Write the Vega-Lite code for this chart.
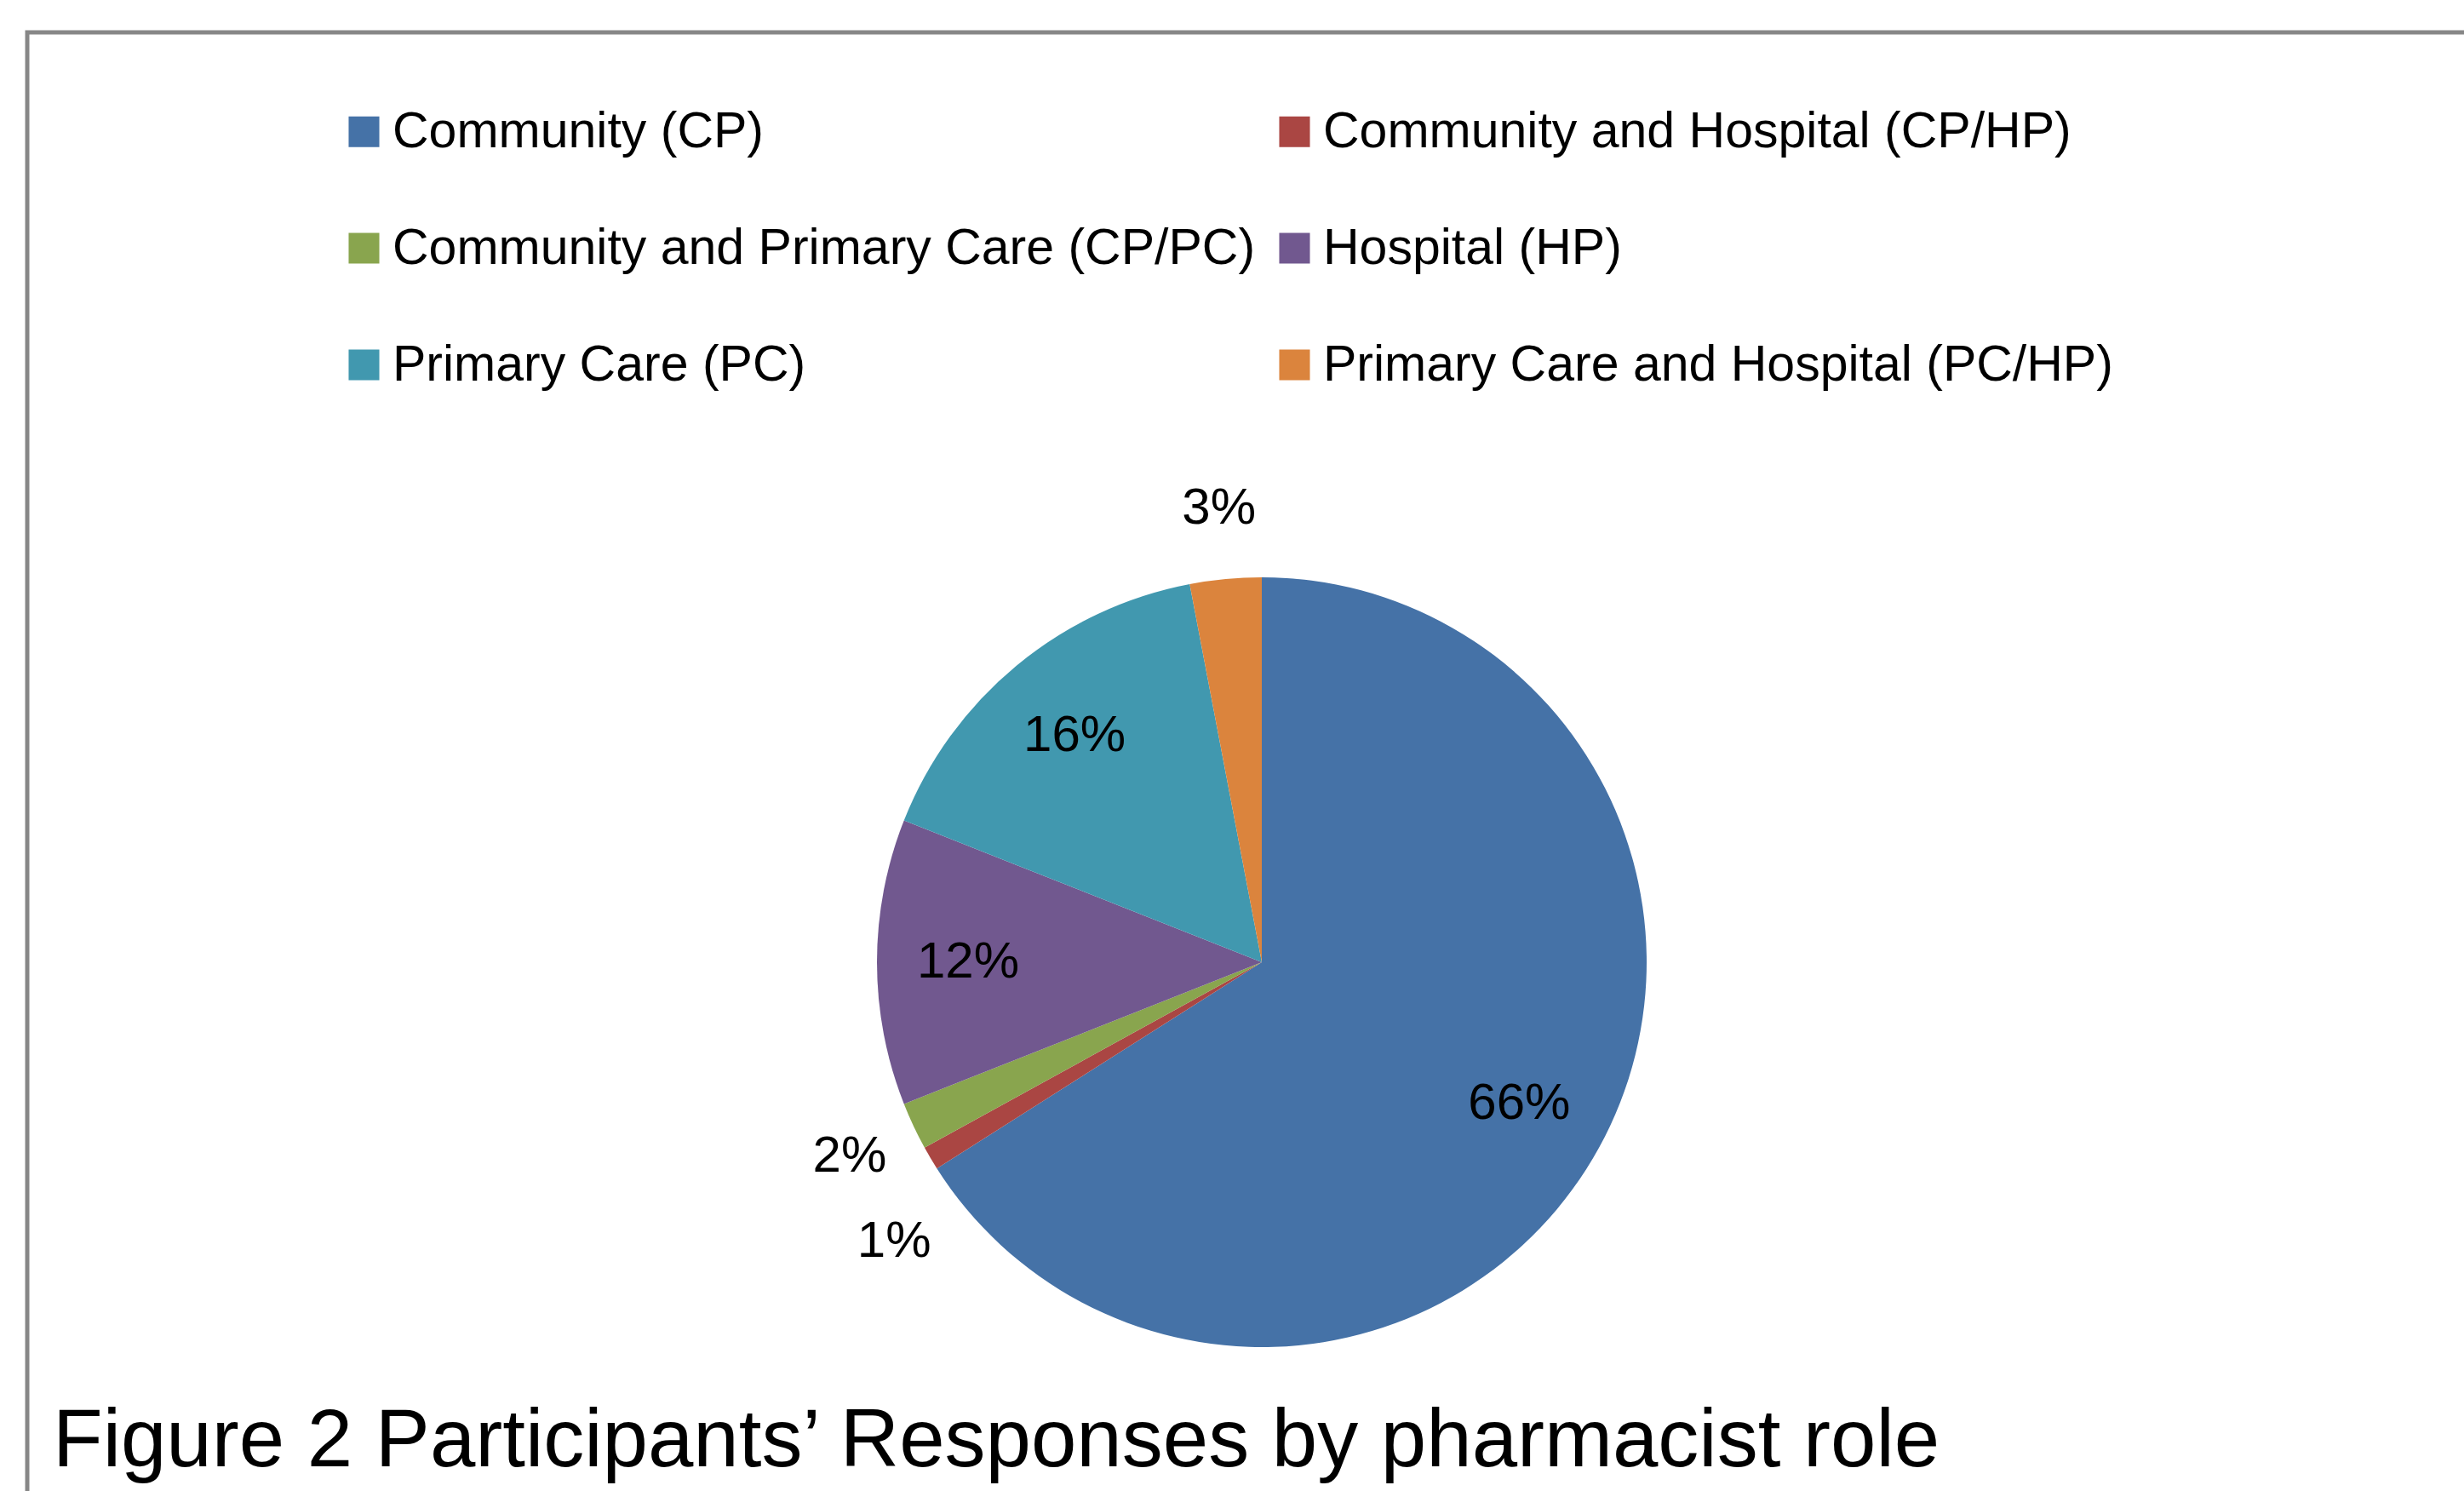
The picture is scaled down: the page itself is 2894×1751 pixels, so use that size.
{
  "$schema": "https://vega.github.io/schema/vega-lite/v6.json",
  "width": 2894,
  "height": 1751,
  "autosize": {"type": "fit", "contains": "padding"},
  "padding": {"left": 32, "top": 38, "right": -38, "bottom": -471},
  "background": "white",
  "view": {"stroke": "#878787", "strokeWidth": 5},
  "config": {
    "view": {"stroke": "#878787", "strokeWidth": 5},
    "style": {"view": {"stroke": "#878787", "strokeWidth": 5}, "cell": {"stroke": "#878787", "strokeWidth": 5}},
    "legend": {
      "orient": "none",
      "legendX": 366,
      "legendY": 87,
      "columns": 2,
      "direction": "horizontal",
      "symbolType": "square",
      "symbolSize": 1300,
      "symbolStrokeWidth": 0,
      "labelFont": "Liberation Sans",
      "labelFontSize": 59,
      "labelColor": "#000000",
      "labelLimit": 0,
      "labelOffset": 4,
      "rowPadding": 77,
      "columnPadding": 16
    }
  },
  "title": {
    "text": "Figure 2 Participants’ Responses by pharmacist role",
    "orient": "top",
    "anchor": "start",
    "frame": "group",
    "offset": -1780,
    "baseline": "alphabetic",
    "dx": 30,
    "font": "Liberation Sans",
    "fontSize": 96,
    "fontWeight": "normal",
    "color": "#000000"
  },
  "data": {
    "values": [
      {"role": "Community (CP)", "value": 0.66, "order": 1},
      {"role": "Community and Hospital (CP/HP)", "value": 0.01, "order": 2},
      {"role": "Community and Primary Care (CP/PC)", "value": 0.02, "order": 3},
      {"role": "Hospital (HP)", "value": 0.12, "order": 4},
      {"role": "Primary Care (PC)", "value": 0.16, "order": 5},
      {"role": "Primary Care and Hospital (PC/HP)", "value": 0.03, "order": 6}
    ]
  },
  "layer": [
    {
      "mark": {"type": "arc", "outerRadius": 452},
      "encoding": {
        "theta": {"field": "value", "type": "quantitative", "stack": true},
        "order": {"field": "order", "type": "quantitative"},
        "color": {
          "field": "role",
          "type": "nominal",
          "title": null,
          "scale": {
            "domain": ["Community (CP)", "Community and Hospital (CP/HP)", "Community and Primary Care (CP/PC)", "Hospital (HP)", "Primary Care (PC)", "Primary Care and Hospital (PC/HP)"],
            "range": ["#4572A7", "#AA4643", "#89A54E", "#71588F", "#4198AF", "#DB843D"]
          }
        }
      }
    },
    {
      "mark": {"type": "text", "radius": 345, "font": "Liberation Sans", "fontSize": 60, "color": "#000000", "align": "center", "baseline": "middle"},
      "encoding": {
        "theta": {"field": "value", "type": "quantitative", "stack": true},
        "order": {"field": "order", "type": "quantitative"},
        "text": {"condition": {"test": "datum.value < 0.1", "value": ""}, "field": "value", "type": "quantitative", "format": ".0%"}
      }
    },
    {
      "mark": {"type": "text", "radius": 535, "font": "Liberation Sans", "fontSize": 60, "color": "#000000", "align": "center", "baseline": "middle"},
      "encoding": {
        "theta": {"field": "value", "type": "quantitative", "stack": true},
        "order": {"field": "order", "type": "quantitative"},
        "text": {"condition": {"test": "datum.value >= 0.1 || datum.value < 0.015", "value": ""}, "field": "value", "type": "quantitative", "format": ".0%"}
      }
    },
    {
      "mark": {"type": "text", "radius": 540, "dx": 33, "dy": 53, "font": "Liberation Sans", "fontSize": 60, "color": "#000000", "align": "center", "baseline": "middle"},
      "encoding": {
        "theta": {"field": "value", "type": "quantitative", "stack": true},
        "order": {"field": "order", "type": "quantitative"},
        "text": {"condition": {"test": "datum.value >= 0.015", "value": ""}, "field": "value", "type": "quantitative", "format": ".0%"}
      }
    }
  ]
}
